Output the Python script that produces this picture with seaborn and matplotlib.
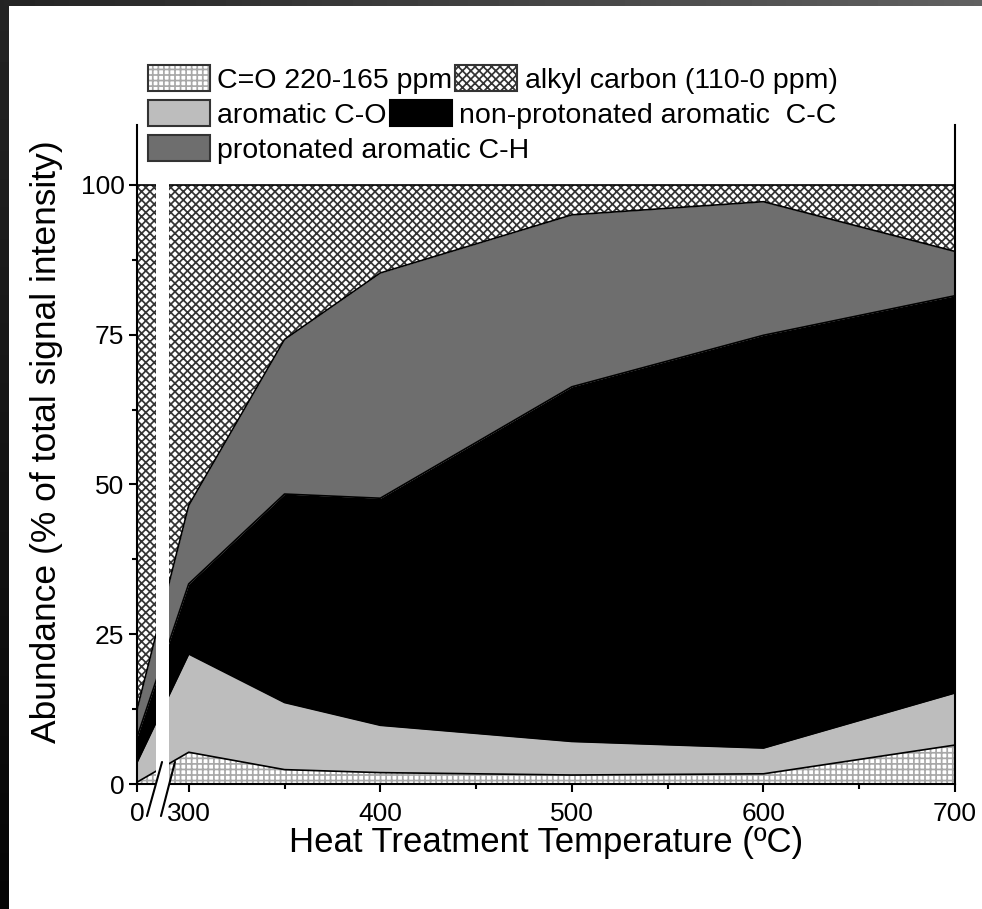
import numpy as np
import pandas as pd
import matplotlib
matplotlib.use("Agg")
import matplotlib.pyplot as plt
import seaborn as sns
from matplotlib.patches import Rectangle, Patch
from matplotlib.legend_handler import HandlerTuple

# Heat treatment temperatures (°C) and carbon-type fractions (% of total signal)
temperatures = [0, 300, 350, 400, 500, 600, 700]
carbonyl = [0.3, 5.3, 2.4, 1.9, 1.5, 1.7, 6.5]          # C=O 220-165 ppm
aromatic_co = [3.3, 16.4, 11.2, 7.9, 5.6, 4.3, 8.7]     # aromatic C-O
nonprot_cc = [4.2, 11.7, 34.8, 37.9, 59.2, 68.9, 66.3]  # non-protonated aromatic C-C
prot_ch = [4.6, 13.1, 25.8, 37.6, 28.7, 22.3, 7.4]      # protonated aromatic C-H
alkyl = [87.6, 53.5, 25.8, 14.7, 5.0, 2.8, 11.1]        # alkyl carbon 110-0 ppm

series_labels = ["C=O 220-165 ppm", "aromatic C-O",
                 "non-protonated aromatic  C-C", "protonated aromatic C-H",
                 "alkyl carbon (110-0 ppm)"]

x_major_ticks = [0, 300, 400, 500, 600, 700]
x_minor_ticks = [350, 450, 550, 650]
y_major_ticks = [0, 25, 50, 75, 100]
y_minor_ticks = [12.5, 37.5, 62.5, 87.5]

df = pd.DataFrame({"T": temperatures, "carbonyl": carbonyl,
                   "aromatic_co": aromatic_co, "nonprot_cc": nonprot_cc,
                   "prot_ch": prot_ch, "alkyl": alkyl})
layers = ["carbonyl", "aromatic_co", "nonprot_cc", "prot_ch", "alkyl"]
tops = df[layers].cumsum(axis=1)

sns.set_theme(style="ticks")
plt.rcParams["font.family"] = ["Liberation Sans", "DejaVu Sans"]
plt.rcParams["hatch.linewidth"] = 1.25
plt.rcParams["axes.linewidth"] = 1.5
for key in ["text.color", "axes.labelcolor", "xtick.color", "ytick.color",
            "axes.edgecolor"]:
    plt.rcParams[key] = "black"

fig = plt.figure(figsize=(9.82, 9.09), dpi=100)
fig.patch.set_facecolor("white")
ax = fig.add_axes([137 / 982, 1 - 784 / 909, (955 - 137) / 982, (784 - 125) / 909])
ax.set_facecolor("white")

grid_gray = "#a8a8a8"
cross_gray = "#333333"
light_gray = "#bdbdbd"
dark_gray = "#6e6e6e"

styles = {
    "carbonyl": dict(facecolor="white", edgecolor=grid_gray, hatch="+++"),
    "aromatic_co": dict(facecolor=light_gray, edgecolor=light_gray),
    "nonprot_cc": dict(facecolor="black", edgecolor="black"),
    "prot_ch": dict(facecolor=dark_gray, edgecolor=dark_gray),
    "alkyl": dict(facecolor="white", edgecolor=cross_gray, hatch="xxxx"),
}

T = df["T"].to_numpy()
lower = np.zeros(len(T))
for name in layers:
    upper = tops[name].to_numpy()
    ax.fill_between(T, lower, upper, linewidth=0, zorder=1, **styles[name])
    lower = upper

# boundary outlines between the stacked layers
for name in layers:
    sns.lineplot(x=T, y=tops[name].to_numpy(), color="black", linewidth=1.2,
                 estimator=None, sort=False, ax=ax, zorder=2)


# compressed axis segment between 0 and 300 °C
def fwd(x):
    x = np.asarray(x, dtype=float)
    return np.where(x >= 300, x, 273 + x * 27 / 300)


def inv(p):
    p = np.asarray(p, dtype=float)
    return np.where(p >= 300, p, (p - 273) * 300 / 27)


ax.set_xscale("function", functions=(fwd, inv))
ax.set_xlim(0, 700)
ax.set_ylim(0, 110)

ax.set_xticks(x_major_ticks)
ax.set_xticklabels([str(t) for t in x_major_ticks])
ax.set_xticks(x_minor_ticks, minor=True)
ax.set_yticks(y_major_ticks)
ax.set_yticklabels([str(t) for t in y_major_ticks])
ax.set_yticks(y_minor_ticks, minor=True)

ax.tick_params(axis="both", which="major", direction="out", length=6,
               width=1.5, labelsize=19, color="black", labelcolor="black")
ax.tick_params(axis="both", which="minor", direction="out", length=3.5,
               width=1.5, color="black")
ax.tick_params(axis="x", pad=7)
ax.tick_params(axis="y", pad=3)

for side in ["left", "bottom", "right"]:
    ax.spines[side].set_visible(True)
    ax.spines[side].set_color("black")
ax.spines["top"].set_visible(False)

ax.set_xlabel("Heat Treatment Temperature (ºC)", fontsize=25, labelpad=0)
ax.set_ylabel("Abundance (% of total signal intensity)", fontsize=25.5)
ax.yaxis.set_label_coords(-0.0905, 0.519)

# axis break: white gap with two slanted marks
ax.add_patch(Rectangle((0.0232, -0.006), 0.0159, 1.01, transform=ax.transAxes,
                       facecolor="white", edgecolor="none", zorder=4,
                       clip_on=False))
for x0, x1 in [(0.0122, 0.0306), (0.0293, 0.0464)]:
    ax.plot([x0, x1], [-0.0486, 0.0334], transform=ax.transAxes,
            color="black", linewidth=1.5, zorder=5, clip_on=False)


# legend entries laid out row by row
def hatched(face, hatch_color, hatch):
    return (Patch(facecolor=face, edgecolor=hatch_color, hatch=hatch, linewidth=0),
            Patch(facecolor="none", edgecolor="#333333", linewidth=1.5))


handles = {
    "carbonyl": hatched("white", grid_gray, "+++"),
    "alkyl": hatched("white", cross_gray, "xxxx"),
    "aromatic_co": (Patch(facecolor=light_gray, edgecolor="#333333", linewidth=1.5),),
    "nonprot_cc": (Patch(facecolor="black", edgecolor="black", linewidth=1.5),),
    "prot_ch": (Patch(facecolor=dark_gray, edgecolor="#333333", linewidth=1.5),),
}
label_of = dict(zip(layers, series_labels))
rows = [["carbonyl", "alkyl"], ["aromatic_co", "nonprot_cc"], ["prot_ch"]]
for i, row in enumerate(rows):
    top_px = 64 + 35 * i
    fig.legend([handles[k] for k in row], [label_of[k] for k in row],
               handler_map={tuple: HandlerTuple(ndivide=1, pad=0)},
               loc="upper left", bbox_to_anchor=(148 / 982, 1 - (top_px + 1) / 909),
               ncol=len(row), frameon=False, fontsize=20.5, borderpad=0,
               borderaxespad=0, handlelength=2.17, handleheight=1.02,
               handletextpad=0.27, columnspacing=0.1, labelspacing=0)

# dark border strips along the top and left edges
top_strip = fig.add_axes([0, 1 - 6 / 909, 1, 6 / 909])
top_strip.imshow(np.linspace(0.14, 0.38, 256)[None, :], cmap="gray", vmin=0, vmax=1,
                 aspect="auto", extent=(0, 1, 0, 1))
top_strip.set_axis_off()
left_strip = fig.add_axes([0, 0, 9 / 982, 1 - 6 / 909])
left_strip.imshow(np.linspace(0.02, 0.14, 256)[:, None], cmap="gray", vmin=0, vmax=1,
                  aspect="auto", extent=(0, 1, 0, 1), origin="lower")
left_strip.set_axis_off()

fig.savefig("out.png", dpi=100, facecolor="white")
